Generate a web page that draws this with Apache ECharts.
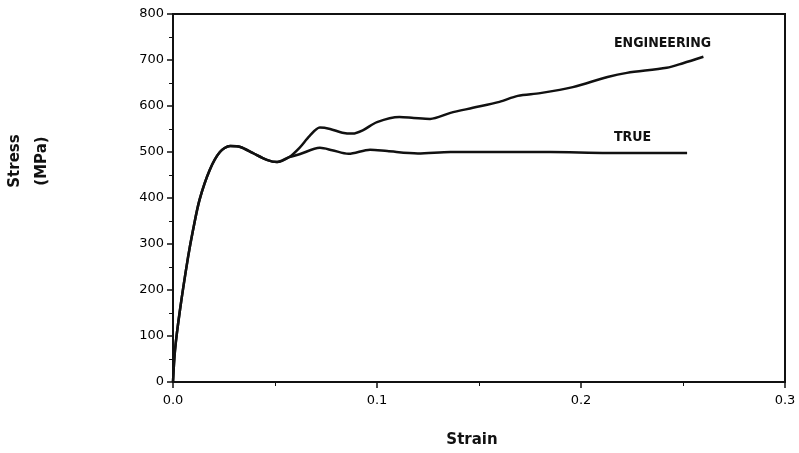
<!DOCTYPE html>
<html>
<head>
<meta charset="utf-8">
<script src="https://cdn.jsdelivr.net/npm/echarts@6/dist/echarts.min.js"></script>
<style>
  html, body { margin: 0; padding: 0; background: #fff; }
  #chart { width: 799px; height: 453px; }
</style>
</head>
<body>
<div id="chart"></div>
<script>
// shared elastic / yield part, then the two curves split after ~0.057 strain
const baseStrain = [0, 0.001, 0.0034, 0.0074, 0.0098, 0.013, 0.018, 0.023, 0.028, 0.033, 0.039, 0.046, 0.051, 0.057];
const baseStress = [0, 70, 156, 272, 330, 396, 461, 500, 513, 511, 498, 483, 478, 489];

const engStrain = [0.062, 0.067, 0.072, 0.077, 0.083, 0.088, 0.093, 0.1, 0.111, 0.118, 0.126, 0.136, 0.147, 0.16, 0.169, 0.18, 0.196, 0.213, 0.2225, 0.242, 0.25, 0.26];
const engStress = [509, 535, 553, 550, 542, 540, 547, 565, 576, 574, 572, 585, 596, 609, 622, 628, 641, 663, 672, 683, 693, 707];

const trueStrain = [0.062, 0.072, 0.078, 0.086, 0.0966, 0.105, 0.12, 0.136, 0.16, 0.185, 0.213, 0.242, 0.252];
const trueStress = [495, 509, 504, 496, 505, 502, 497, 500, 500, 500, 498, 498, 498];

const xTicks = [0, 0.1, 0.2, 0.3];
const yTicks = [0, 100, 200, 300, 400, 500, 600, 700, 800];

function pairs(xs, ys) {
  return xs.map((x, i) => [x, ys[i]]);
}
const engData = pairs(baseStrain, baseStress).concat(pairs(engStrain, engStress));
const trueData = pairs(baseStrain, baseStress).concat(pairs(trueStrain, trueStress));

const chart = echarts.init(document.getElementById("chart"));
const font = "DejaVu Sans, Liberation Sans, sans-serif";
const condensed = "DejaVu Sans Condensed, Liberation Sans Narrow, sans-serif";
const option = {
  animation: false,
  backgroundColor: "#fff",
  grid: {
    left: 173, right: 14, top: 14, bottom: 71,
    show: true, borderColor: "#111", borderWidth: 2
  },
  xAxis: {
    type: "value",
    min: xTicks[0], max: xTicks[xTicks.length - 1], interval: 0.1,
    axisLine: { lineStyle: { color: "#111", width: 2 } },
    axisTick: { length: 6, lineStyle: { color: "#111", width: 1.5 } },
    minorTick: { show: true, splitNumber: 2, length: 4, lineStyle: { color: "#111" } },
    splitLine: { show: false },
    axisLabel: {
      color: "#000", fontSize: 13, fontFamily: font, margin: 12,
      formatter: (v) => v.toFixed(1)
    }
  },
  yAxis: {
    type: "value",
    min: yTicks[0], max: yTicks[yTicks.length - 1], interval: 100,
    axisLine: { show: true, lineStyle: { color: "#111", width: 2 } },
    axisTick: { show: true, length: 6, lineStyle: { color: "#111", width: 1.5 } },
    minorTick: { show: true, splitNumber: 2, length: 4, lineStyle: { color: "#111" } },
    splitLine: { show: false },
    axisLabel: { color: "#000", fontSize: 13, fontFamily: font, margin: 9 }
  },
  series: [
    {
      name: "ENGINEERING",
      type: "line",
      data: engData,
      smooth: 0.3,
      showSymbol: false,
      lineStyle: { color: "#111", width: 2.5 }
    },
    {
      name: "TRUE",
      type: "line",
      data: trueData,
      smooth: 0.3,
      showSymbol: false,
      lineStyle: { color: "#111", width: 2.5 }
    }
  ],
  graphic: [
    {
      type: "text", left: 614, top: 36,
      style: { text: "ENGINEERING", fill: "#111", font: "bold 14px " + condensed }
    },
    {
      type: "text", left: 614, top: 130,
      style: { text: "TRUE", fill: "#111", font: "bold 14px " + condensed }
    },
    {
      type: "text", x: 29, y: 161, rotation: Math.PI / 2,
      style: {
        text: "Stress\n(MPa)", fill: "#111", font: "bold 15px " + font,
        align: "center", verticalAlign: "middle", lineHeight: 27
      }
    },
    {
      type: "text", x: 472, y: 440,
      style: {
        text: "Strain", fill: "#111", font: "bold 15px " + font,
        align: "center", verticalAlign: "middle"
      }
    }
  ]
};
chart.setOption(option);
</script>
</body>
</html>
